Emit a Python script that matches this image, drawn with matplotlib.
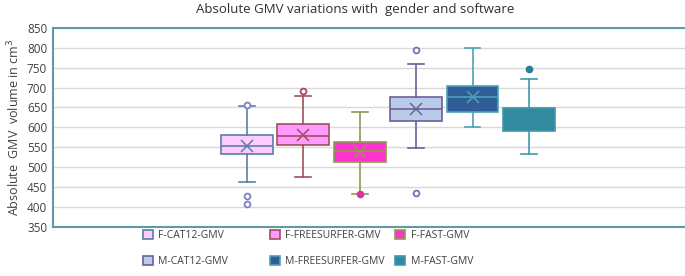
import matplotlib
matplotlib.use("Agg")
import matplotlib.pyplot as plt
from matplotlib.patches import Patch

plt.rcParams['font.family'] = ['Open Sans', 'DejaVu Sans']

labels = ["F-CAT12-GMV", "F-FREESURFER-GMV", "F-FAST-GMV",
          "M-CAT12-GMV", "M-FREESURFER-GMV", "M-FAST-GMV"]
q1 = [532, 555, 513, 617, 639, 590]
med = [554, 578, 541, 646, 676, 620]
q3 = [580, 608, 562, 677, 705, 648]
whislo = [463, 475, 433, 548, 600, 533]
whishi = [653, 680, 639, 759, 800, 722]
means = [554, 580, 538, 646, 676, 620]
fliers = [[657, 427, 407], [692], [433], [794, 436], [], [747]]

fills = ["#FFCCFF", "#FF99FF", "#FF33CC", "#B8CCE8", "#2F5E96", "#318A9E"]
edges = ["#5A7FA8", "#A0505A", "#8E9A50", "#6E5E9A", "#4FA0B8", "#3E98AE"]
inner = ["#5A7FA8", "#A0505A", "#8E9A50", "#6E5E9A", "#4FA0B8", "#318A9E"]
flier_face = ["white", "white", "#E0309A", "white", "white", "#2A7F94"]
flier_edge = ["#8080C0", "#B04060", "#E0309A", "#7E70B0", "#4FA0B8", "#2A7F94"]

fig = plt.figure(figsize=(6.85, 2.76), dpi=100)
ax = fig.add_axes([0.077, 0.178, 0.925, 0.721])

frame_c = "#5E9AA8"
grid_c = "#D9D9D9"

for i in range(6):
    st = [dict(med=med[i], q1=q1[i], q3=q3[i], whislo=whislo[i], whishi=whishi[i],
               mean=means[i], fliers=fliers[i], label=labels[i])]
    ax.bxp(st, positions=[i + 1], widths=0.92, capwidths=0.28, showmeans=True,
           patch_artist=True, manage_ticks=False,
           boxprops=dict(facecolor=fills[i], edgecolor=edges[i], linewidth=1.2),
           medianprops=dict(color=inner[i], linewidth=1.2),
           whiskerprops=dict(color=edges[i], linewidth=1.2),
           capprops=dict(color=edges[i], linewidth=1.2),
           meanprops=dict(marker="x", markeredgecolor=inner[i], markersize=8.5,
                          markeredgewidth=1.1),
           flierprops=dict(marker="o", markerfacecolor=flier_face[i],
                           markeredgecolor=flier_edge[i], markersize=4.2,
                           markeredgewidth=1.3))

ax.set_xlim(-2.44, 8.79)
ax.set_ylim(350, 850)
ax.set_yticks(range(350, 851, 50))
ax.set_xticks([])
ax.yaxis.grid(True, color=grid_c, linewidth=1.0)
ax.set_axisbelow(True)
for s in ax.spines.values():
    s.set_color(frame_c)
    s.set_linewidth(1.5)
ax.spines["right"].set_visible(False)
ax.tick_params(axis="y", length=0, labelsize=8.5, labelcolor="#404040", pad=4)
ax.set_ylabel("Absolute  GMV  volume in cm$^3$", fontsize=9, color="#404040", labelpad=3)
fig.suptitle("Absolute GMV variations with  gender and software", fontsize=9.5,
             color="#303030", x=0.518, y=0.99)

def handle(i):
    return Patch(facecolor=fills[i], edgecolor=edges[i], linewidth=1.2)

cols = [(0, 3, 0.204), (1, 4, 0.389), (2, 5, 0.572)]
for a, b, x in cols:
    fig.legend([handle(a), handle(b)], [labels[a], labels[b]],
               loc="upper left", bbox_to_anchor=(x, 0.178), ncol=1,
               frameon=False, fontsize=7.5, handlelength=1.0, handleheight=1.0,
               handletextpad=0.5, labelspacing=1.4, borderaxespad=0.0,
               borderpad=0.3, labelcolor="#404040")

fig.savefig("out.png", dpi=100)
